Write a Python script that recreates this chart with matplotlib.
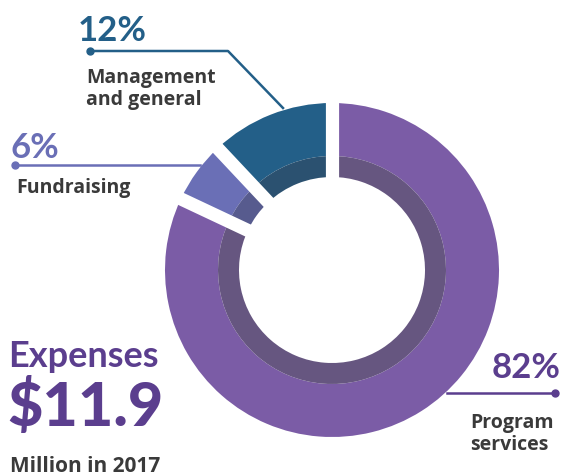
import numpy as np
import matplotlib.pyplot as plt

W, H = 566, 476

# expense shares (percent)
labels = ["Program services", "Fundraising", "Management and general"]
shares = [82, 6, 12]
outer_colors = ["#7B5CA6", "#6A6FB6", "#235F88"]
inner_colors = ["#665680", "#575B8E", "#2B5170"]
total_expenses = 11.9
year = 2017

fig = plt.figure(figsize=(W / 100, H / 100), dpi=100)
ax = fig.add_axes([0, 0, 1, 1])


def py(y):
    # picture y (top down) -> axes y
    return H - y


cx, cy = 332, py(270)
r_out, r_mid, r_in = 167, 114, 93

ax.pie(shares, colors=outer_colors, startangle=90, counterclock=False,
       radius=r_out, center=(cx, cy), wedgeprops=dict(width=r_out - r_mid, linewidth=0))
ax.pie(shares, colors=inner_colors, startangle=90, counterclock=False,
       radius=r_mid, center=(cx, cy), wedgeprops=dict(width=r_mid - r_in, linewidth=0))
ax.set_xlim(0, W)
ax.set_ylim(0, H)
ax.set_aspect("equal")
ax.axis("off")

# white gaps between slices
bounds = 90 - 360 * np.cumsum([0] + shares[:-1]) / sum(shares)
for a in np.radians(bounds):
    ax.plot([cx + 60 * np.cos(a), cx + 185 * np.cos(a)],
            [cy + 60 * np.sin(a), cy + 185 * np.sin(a)],
            color="white", lw=9.5, solid_capstyle="butt", zorder=3)

big = "Lato"
small = "Open Sans"
grey = "#3a3a3a"
purple = "#5B3E8E"


def label(x, y, lines, gap=22):
    for i, s in enumerate(lines):
        ax.text(x, py(y + i * gap), s, fontsize=14, fontweight="bold", color=grey,
                family=small, va="baseline")


# Management and general
ax.plot([90, 228, 283], [py(51), py(51), py(108)], color=outer_colors[2], lw=1.8, zorder=4)
ax.plot(90, py(51), "o", color=outer_colors[2], ms=5, zorder=4)
ax.text(78, py(41), f"{shares[2]}%", fontsize=25, fontweight="bold", color=outer_colors[2],
        family=big, va="baseline")
label(86, 83, ["Management", "and general"])

# Fundraising
ax.plot([15, 200], [py(165), py(165)], color=outer_colors[1], lw=1.8, zorder=4)
ax.plot(15, py(165), "o", color=outer_colors[1], ms=5, zorder=4)
ax.text(10, py(158), f"{shares[1]}%", fontsize=25, fontweight="bold", color=outer_colors[1],
        family=big, va="baseline")
label(16, 193, ["Fundraising"])

# Program services
ax.plot([447, 555], [py(393), py(393)], color=purple, lw=1.8, zorder=4)
ax.plot(555, py(393), "o", color=purple, ms=5, zorder=4)
ax.text(561, py(378), f"{shares[0]}%", fontsize=25, fontweight="bold", color=purple,
        family=big, va="baseline", ha="right")
label(470, 428, ["Program", "services"])

# total
ax.text(8, py(367), "Expenses", fontsize=26, fontweight="bold", color=purple,
        family=big, va="baseline")
ax.text(7, py(426), f"${total_expenses}", fontsize=44, fontweight="black", color=purple,
        family=big, va="baseline")
ax.text(10, py(472), f"Million in {year}", fontsize=15, fontweight="bold", color=grey,
        family=small, va="baseline")

fig.savefig("out.png", dpi=100)
